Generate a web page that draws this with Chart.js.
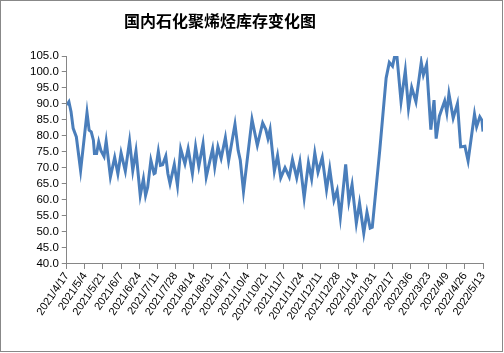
<!DOCTYPE html>
<html>
<head>
<meta charset="utf-8">
<script src="https://cdn.jsdelivr.net/npm/chart.js@4"></script>
<style>
  html, body { margin: 0; padding: 0; background: #fff; }
  #box { width: 503px; height: 352px; border: 1px solid #888; box-sizing: border-box; position: relative; }
</style>
</head>
<body>
<div id="box"><canvas id="graf"></canvas></div>
<script>
const titulo = '国内石化聚烯烃库存变化图'

// dias contados a partir de 2021/4/17
const dias = [0, 2, 4, 6, 9, 13, 19, 21, 23, 25, 26, 28, 30, 32, 35, 37, 41, 45, 48, 51,
  55, 59, 62, 65, 69, 72, 74, 76, 79, 82, 83, 86, 88, 90, 93, 95, 97, 101, 104, 107,
  111, 114, 118, 121, 124, 128, 131, 137, 139, 142, 145, 149, 152, 158, 161, 163, 166, 174, 179, 184,
  187, 189, 191, 195, 198, 201, 205, 209, 212, 216, 219, 223, 227, 230, 233, 236, 240, 244, 247, 251,
  254, 257, 262, 265, 268, 272, 275, 279, 282, 285, 287, 294, 300, 303, 306, 308, 310, 314, 318, 321,
  324, 328, 333, 335, 338, 342, 345, 347, 350, 355, 357, 359, 363, 367, 370, 374, 377, 383, 385, 388,
  390, 391]

const estoque = [89.7, 90.7, 87.6, 82.4, 79.7, 69.2, 87.3, 81.8, 81.3, 78.7, 74.5, 74.5, 78.1, 75.5, 73.6, 78.4, 67.2, 73.3, 68.2, 74.7,
  69.0, 78.4, 69.2, 75.3, 61.4, 66.6, 61.4, 64.0, 72.4, 68.2, 68.4, 75.2, 70.8, 71.0, 73.7, 68.2, 65.1, 71.1, 64.5, 76.0,
  71.3, 76.0, 68.2, 76.7, 70.5, 77.6, 67.2, 76.0, 70.3, 76.6, 73.0, 79.5, 72.2, 83.7, 75.5, 72.4, 62.7, 85.2, 77.1, 84.1,
  82.0, 79.2, 82.0, 69.0, 73.9, 66.9, 70.1, 67.2, 72.6, 66.9, 71.9, 60.7, 71.6, 66.6, 74.7, 68.7, 73.3, 63.2, 69.8, 59.9,
  63.0, 54.6, 71.1, 59.6, 64.8, 52.7, 59.0, 49.6, 56.2, 51.2, 51.5, 75.5, 98.1, 103.0, 101.8, 104.9, 105.5, 90.7, 100.4, 88.6,
  95.2, 90.7, 103.0, 99.1, 102.3, 82.0, 91.2, 79.2, 86.2, 91.0, 87.3, 93.2, 85.6, 90.1, 76.6, 76.8, 72.2, 86.8, 82.9, 86.0,
  84.9, 81.4]

const rotulos = ['2021/4/17', '2021/5/4', '2021/5/21', '2021/6/7', '2021/6/24', '2021/7/11', '2021/7/28', '2021/8/14',
  '2021/8/31', '2021/9/17', '2021/10/4', '2021/10/21', '2021/11/7', '2021/11/24', '2021/12/11', '2021/12/28',
  '2022/1/14', '2022/1/31', '2022/2/17', '2022/3/6', '2022/3/23', '2022/4/9', '2022/4/26', '2022/5/13']

const cinza = '#868686'

const pontos = dias.map((d, i) => ({ x: d, y: estoque[i] }))

const tituloPlugin = {
  id: 'tituloPlugin',
  afterDraw(chart) {
    const c = chart.ctx
    c.save()
    c.font = 'bold 16px "Noto Sans CJK SC"'
    c.fillStyle = '#000'
    c.textAlign = 'center'
    c.textBaseline = 'middle'
    c.fillText(titulo, 219, 20)
    c.restore()
  }
}

new Chart(document.getElementById('graf'), {
  type: 'line',
  data: {
    datasets: [{
      label: titulo,
      data: pontos,
      borderColor: '#4a7ebb',
      backgroundColor: '#4a7ebb',
      borderWidth: 3,
      tension: 0,
      pointRadius: 0
    }]
  },
  options: {
    responsive: true,
    maintainAspectRatio: false,
    animation: false,
    layout: { padding: { left: 26, right: 19, top: 55, bottom: 27 } },
    plugins: { legend: { display: false }, tooltip: { enabled: false } },
    scales: {
      x: {
        type: 'linear',
        min: 0,
        max: 391,
        border: { color: cinza, width: 1 },
        grid: { drawOnChartArea: false, color: cinza, tickLength: 5 },
        ticks: {
          stepSize: 17,
          autoSkip: false,
          minRotation: 56,
          maxRotation: 56,
          padding: 1,
          color: '#000',
          font: { family: 'Liberation Sans', size: 11 },
          callback: v => rotulos[Math.round(v / 17)]
        }
      },
      y: {
        min: 40,
        max: 105,
        border: { color: cinza, width: 1 },
        grid: { drawOnChartArea: false, color: cinza, tickLength: 5 },
        ticks: {
          stepSize: 5,
          autoSkip: false,
          padding: 3,
          color: '#000',
          font: { family: 'Liberation Sans', size: 11.5 },
          callback: v => v.toFixed(1)
        }
      }
    }
  },
  plugins: [tituloPlugin]
})
</script>
</body>
</html>
